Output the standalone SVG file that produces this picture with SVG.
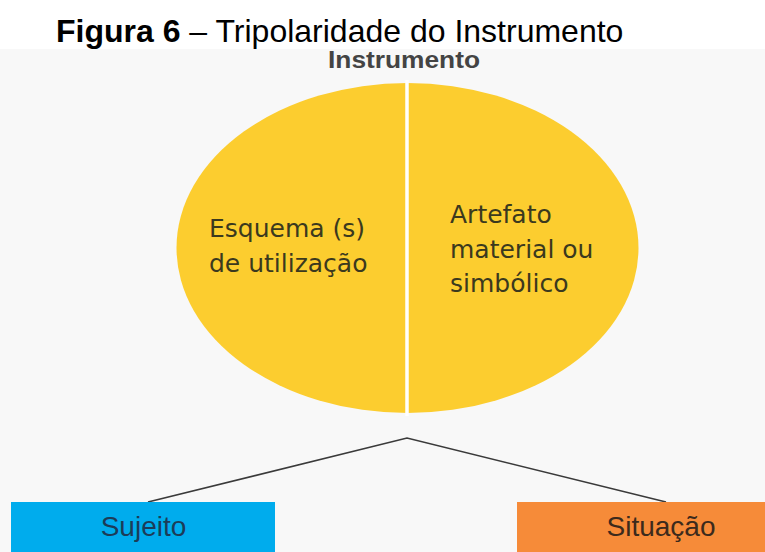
<svg xmlns="http://www.w3.org/2000/svg" width="765" height="552" viewBox="0 0 765 552">
<style>
.title{font-family:"Liberation Sans",Arial,sans-serif;font-size:32px;fill:#000}
.hdr{font-family:"Liberation Sans",Arial,sans-serif;font-weight:bold;font-size:23px;fill:#444}
.el{font-family:"DejaVu Sans",sans-serif;font-size:25px;fill:#3b391e}
.box{font-family:"Liberation Sans",Arial,sans-serif;font-size:28px}
.conn{stroke:#3a3a3a;stroke-width:1.6;fill:none}
</style>
<rect x="0" y="0" width="765" height="552" fill="#ffffff"/>
<rect x="0" y="49" width="765" height="503" fill="#f8f8f8"/>
<text class="title" x="56" y="42"><tspan font-weight="bold">Figura 6</tspan> – Tripolaridade do Instrumento</text>
<text class="hdr" x="328" y="68" textLength="152" lengthAdjust="spacingAndGlyphs">Instrumento</text>
<g id="instrumento">
<ellipse cx="407.5" cy="248" rx="231" ry="165" fill="#fccd2f"/>
<line x1="407" y1="80" x2="407" y2="416" stroke="#ffffff" stroke-width="3.5"/>
</g>
<g id="esquema">
<text class="el" x="209" y="237">Esquema (s)</text>
<text class="el" x="209" y="272">de utilização</text>
</g>
<g id="artefato">
<text class="el" x="450" y="223">Artefato</text>
<text class="el" x="450" y="258">material ou</text>
<text class="el" x="450" y="292">simbólico</text>
</g>
<g id="connectors">
<polyline class="conn" points="148,502 407,438 666,502"/>
</g>
<g id="sujeito">
<rect x="11" y="502" width="264" height="50" fill="#00aced"/>
<text class="box" x="143.5" y="536" text-anchor="middle" fill="#1c3c58">Sujeito</text>
</g>
<g id="situacao">
<rect x="517" y="502" width="248" height="50" fill="#f68b39"/>
<text class="box" x="661" y="536" text-anchor="middle" fill="#3c2a1c">Situação</text>
</g>
</svg>
